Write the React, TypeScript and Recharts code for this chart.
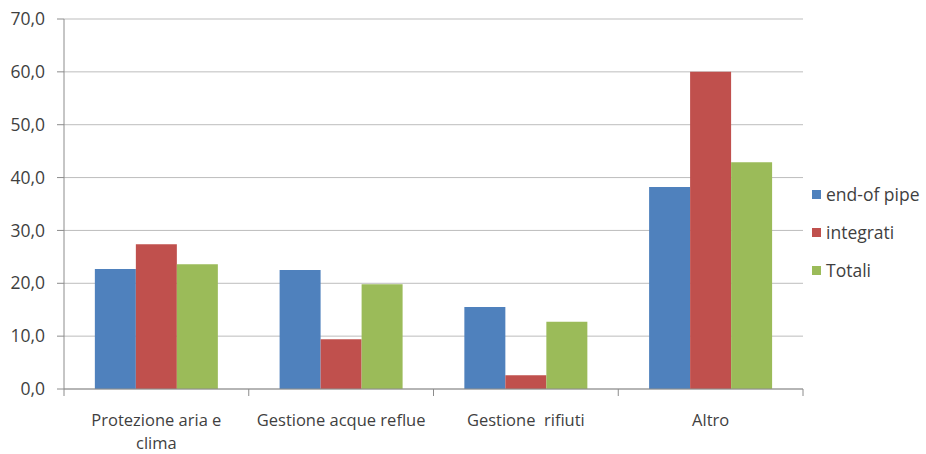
import React from "react";
import { BarChart, Bar, XAxis, YAxis, CartesianGrid, Legend } from "recharts";

const categories = ["Protezione aria e clima", "Gestione acque reflue", "Gestione  rifiuti", "Altro"];
const endOfPipe = [22.7, 22.5, 15.5, 38.2];
const integrati = [27.4, 9.4, 2.6, 60.0];
const totali = [23.6, 19.8, 12.7, 42.9];
const yTicks = [0, 10, 20, 30, 40, 50, 60, 70];
const seriesNames = ["end-of pipe", "integrati", "Totali"];
const seriesColors = ["#4F81BD", "#C0504D", "#9BBB59"];

const data = categories.map((c, i) => ({
  name: c,
  endOfPipe: endOfPipe[i],
  integrati: integrati[i],
  totali: totali[i],
}));

const FONT = "'Open Sans', sans-serif";
const TEXT = "#3f3f3f";
const AXIS = "#8c8c8c";
const FS = 17.5;
const XFS = 16.5;

const wrapLabel = (s: string): string[] => {
  if (s === "Protezione aria e clima") return ["Protezione aria e", "clima"];
  return [s];
};

const XTick = (props: any) => {
  const { x, y, payload, index, visibleTicksCount } = props;
  const half = payload && payload.offset ? payload.offset : 92.4;
  const lines = wrapLabel(String(payload.value));
  const isLast = index === (visibleTicksCount ?? 4) - 1;
  return (
    <g>
      <line x1={x - half} x2={x - half} y1={y - 8} y2={y - 1} stroke={AXIS} />
      {isLast && <line x1={x + half} x2={x + half} y1={y - 8} y2={y - 1} stroke={AXIS} />}
      <text
        x={x}
        y={y + 29}
        textAnchor="middle"
        fill={TEXT}
        fontSize={XFS}
        fontFamily={FONT}
        style={{ whiteSpace: "pre" }}
      >
        {lines.map((l, i) => (
          <tspan key={i} x={x} dy={i === 0 ? 0 : 22.5}>
            {l}
          </tspan>
        ))}
      </text>
    </g>
  );
};

const LegendContent = () => (
  <div style={{ fontFamily: FONT, fontSize: FS, color: TEXT }}>
    {seriesNames.map((n, i) => (
      <div key={n} style={{ display: "flex", alignItems: "center", height: 38 }}>
        <span
          style={{
            display: "inline-block",
            width: 9,
            height: 9,
            background: seriesColors[i],
            marginRight: 5,
          }}
        />
        <span>{n}</span>
      </div>
    ))}
  </div>
);

export default function App() {
  return (
    <div style={{ position: "absolute", left: 0, top: 0, background: "#fff" }}>
      <BarChart
        width={926}
        height={454}
        data={data}
        margin={{ top: 19, right: 9, bottom: 0, left: 0 }}
        barCategoryGap="16.7%"
        barGap={0}
      >
        <CartesianGrid vertical={false} stroke="#bdbdbd" />
        <XAxis
          dataKey="name"
          height={65}
          axisLine={{ stroke: AXIS }}
          tickLine={false}
          tick={<XTick />}
          interval={0}
        />
        <YAxis
          width={64}
          domain={[0, 70]}
          ticks={yTicks}
          interval={0}
          tickSize={7}
          tickMargin={12}
          axisLine={{ stroke: AXIS }}
          tickLine={{ stroke: AXIS }}
          tickFormatter={(v: number) => v.toFixed(1).replace(".", ",")}
          tick={{ fill: TEXT, fontSize: FS, fontFamily: FONT }}
        />
        <Legend
          layout="vertical"
          align="right"
          verticalAlign="middle"
          content={<LegendContent />}
          wrapperStyle={{ position: "absolute", left: 812, top: 175, width: 114 }}
        />
        <Bar dataKey="endOfPipe" name={seriesNames[0]} fill={seriesColors[0]} isAnimationActive={false} />
        <Bar dataKey="integrati" name={seriesNames[1]} fill={seriesColors[1]} isAnimationActive={false} />
        <Bar dataKey="totali" name={seriesNames[2]} fill={seriesColors[2]} isAnimationActive={false} />
      </BarChart>
    </div>
  );
}
